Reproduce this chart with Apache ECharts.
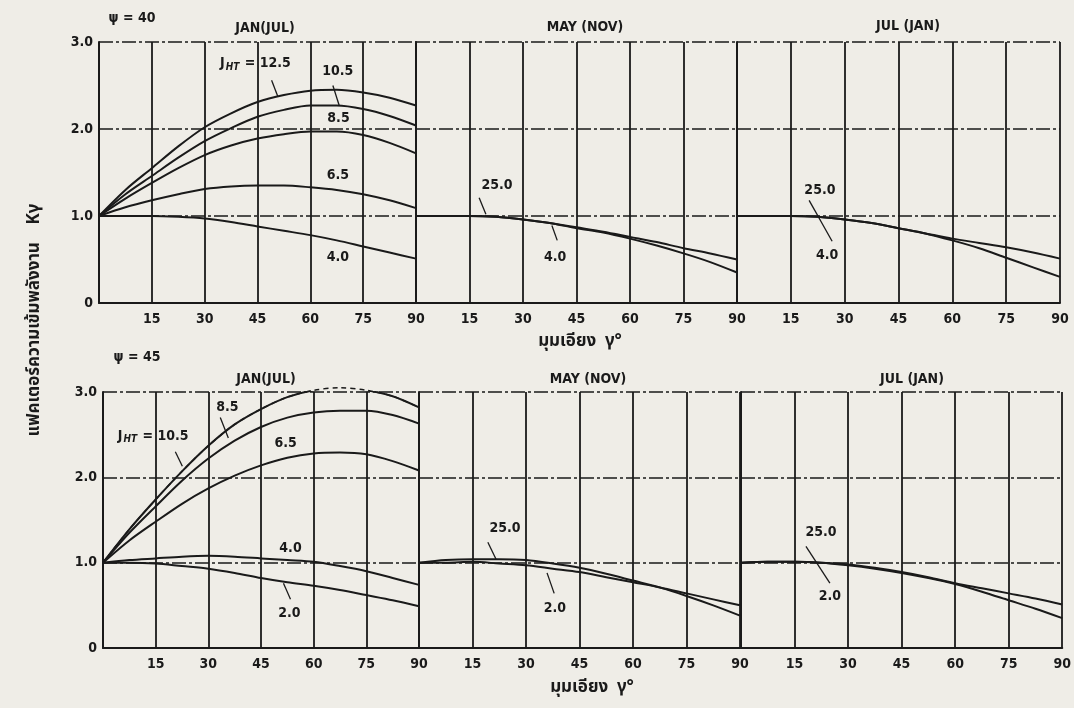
<!DOCTYPE html>
<html>
<head>
<meta charset="utf-8">
<script src="https://cdn.jsdelivr.net/npm/echarts@6/dist/echarts.min.js"></script>
<style>
html,body{margin:0;padding:0;background:#efede7;}
#chart{width:1074px;height:708px;}
</style>
</head>
<body>
<div id="chart"></div>
<script>
// ---------- data (tilt angle in degrees, factor K_gamma) ----------
const angles = [0, 7.5, 15, 22.5, 30, 37.5, 45, 52.5, 60, 67.5, 75, 82.5, 90];
const xTicks = [15, 30, 45, 60, 75, 90];
const yTicks = ['0', '1.0', '2.0', '3.0'];

// psi = 40, JAN (JUL)
const jan40_J125 = [1.00, 1.30, 1.55, 1.80, 2.02, 2.18, 2.31, 2.39, 2.44, 2.45, 2.42, 2.36, 2.27];
const jan40_J105 = [1.00, 1.25, 1.46, 1.67, 1.86, 2.01, 2.14, 2.22, 2.27, 2.27, 2.23, 2.15, 2.04];
const jan40_J85  = [1.00, 1.20, 1.38, 1.55, 1.70, 1.81, 1.89, 1.94, 1.97, 1.97, 1.93, 1.84, 1.72];
const jan40_J65  = [1.00, 1.10, 1.18, 1.25, 1.31, 1.34, 1.35, 1.35, 1.33, 1.30, 1.25, 1.18, 1.09];
const jan40_J40  = [1.00, 1.00, 1.00, 0.99, 0.97, 0.93, 0.88, 0.83, 0.78, 0.72, 0.65, 0.58, 0.51];
// psi = 40, MAY (NOV)
const may40_J250 = [1.00, 1.00, 1.00, 0.99, 0.96, 0.92, 0.86, 0.81, 0.74, 0.66, 0.57, 0.47, 0.35];
const may40_J40  = [1.00, 1.00, 1.00, 0.99, 0.96, 0.92, 0.87, 0.82, 0.76, 0.70, 0.63, 0.57, 0.50];
// psi = 40, JUL (JAN)
const jul40_J250 = [1.00, 1.00, 1.00, 0.99, 0.96, 0.92, 0.86, 0.80, 0.72, 0.63, 0.52, 0.41, 0.30];
const jul40_J40  = [1.00, 1.00, 1.00, 0.99, 0.96, 0.92, 0.86, 0.80, 0.74, 0.69, 0.64, 0.58, 0.51];

// psi = 45, JAN (JUL)
const jan45_J105 = [1.00, 1.39, 1.74, 2.07, 2.37, 2.62, 2.80, 2.94, 3.02, 3.05, 3.02, 2.95, 2.82];
const jan45_J85  = [1.00, 1.35, 1.66, 1.96, 2.22, 2.43, 2.59, 2.70, 2.76, 2.78, 2.78, 2.73, 2.63];
const jan45_J65  = [1.00, 1.26, 1.48, 1.69, 1.87, 2.02, 2.14, 2.23, 2.28, 2.29, 2.27, 2.19, 2.08];
const jan45_J40  = [1.00, 1.03, 1.05, 1.07, 1.08, 1.07, 1.05, 1.03, 1.01, 0.96, 0.90, 0.82, 0.74];
const jan45_J20  = [1.00, 1.00, 0.99, 0.96, 0.93, 0.88, 0.82, 0.77, 0.73, 0.68, 0.62, 0.56, 0.49];
// psi = 45, MAY (NOV)
const may45_J250 = [1.00, 1.03, 1.04, 1.04, 1.03, 0.99, 0.94, 0.87, 0.79, 0.71, 0.61, 0.50, 0.38];
const may45_J20  = [1.00, 1.00, 1.01, 0.99, 0.97, 0.93, 0.89, 0.83, 0.77, 0.71, 0.64, 0.57, 0.50];
// psi = 45, JUL (JAN)
const jul45_J250 = [1.00, 1.01, 1.01, 1.00, 0.97, 0.93, 0.88, 0.82, 0.75, 0.66, 0.56, 0.46, 0.35];
const jul45_J20  = [1.00, 1.01, 1.01, 1.00, 0.98, 0.94, 0.89, 0.83, 0.76, 0.70, 0.64, 0.58, 0.51];

// curve labels [x, y, text] in data units, and leader lines [x1,y1,x2,y2]
const labels0 = [[44.4, 2.75, 'JHT125'], [67.8, 2.66, '10.5'], [68, 2.12, '8.5'], [67.8, 1.47, '6.5'], [67.8, 0.52, '4.0']];
const leaders0 = [[49.0, 2.56, 50.8, 2.37], [66.4, 2.50, 68.2, 2.27]];
const labels1 = [[22.7, 1.35, '25.0'], [39, 0.53, '4.0']];
const leaders1 = [[17.7, 1.21, 19.6, 1.02], [38.1, 0.89, 39.6, 0.72]];
const labels2 = [[23.1, 1.29, '25.0'], [25.1, 0.55, '4.0']];
const leaders2 = [[20.1, 1.18, 26.5, 0.71]];
const labels3 = [[35.4, 2.82, '8.5'], [14.3, 2.48, 'JHT105'], [52, 2.40, '6.5'], [53.4, 1.17, '4.0'], [53.1, 0.41, '2.0']];
const leaders3 = [[33.4, 2.70, 35.7, 2.46], [20.6, 2.30, 22.6, 2.13], [51.4, 0.76, 53.4, 0.57]];
const labels4 = [[24.1, 1.40, '25.0'], [38.1, 0.47, '2.0']];
const leaders4 = [[19.3, 1.24, 21.6, 1.04], [35.9, 0.88, 37.9, 0.64]];
const labels5 = [[22.4, 1.35, '25.0'], [24.9, 0.60, '2.0']];
const leaders5 = [[18.2, 1.19, 24.9, 0.76]];

// ---------- layout / style ----------
const ink = '#1a1a1a';
const FONT = "'Liberation Sans Narrow', 'DejaVu Sans Condensed', 'Liberation Sans', sans-serif";
const THAI = "'Noto Sans Thai', 'Noto Sans', 'DejaVu Sans', sans-serif";
const gridPos = [
  {left: 99, top: 42, width: 317, height: 261},
  {left: 416, top: 42, width: 321, height: 261},
  {left: 737, top: 42, width: 323, height: 261},
  {left: 103, top: 392, width: 316, height: 256},
  {left: 419, top: 392, width: 321, height: 256},
  {left: 741, top: 392, width: 322, height: 256}
];
const panels = [
  {curves: [jan40_J125, jan40_J105, jan40_J85, jan40_J65, jan40_J40], labels: labels0, leaders: leaders0},
  {curves: [may40_J250, may40_J40], labels: labels1, leaders: leaders1},
  {curves: [jul40_J250, jul40_J40], labels: labels2, leaders: leaders2},
  {curves: [jan45_J105, jan45_J85, jan45_J65, jan45_J40, jan45_J20], labels: labels3, leaders: leaders3, overflow: jan45_J105},
  {curves: [may45_J250, may45_J20], labels: labels4, leaders: leaders4},
  {curves: [jul45_J250, jul45_J20], labels: labels5, leaders: leaders5}
];

const grid = [], xAxis = [], yAxis = [], series = [];
gridPos.forEach((g, i) => {
  grid.push({left: g.left, top: g.top, width: g.width, height: g.height, containLabel: false});
  xAxis.push({
    gridIndex: i, type: 'value', min: 0, max: 90, interval: 15,
    axisLine: {show: true, onZero: false, lineStyle: {color: ink, width: 2}},
    axisTick: {show: false},
    splitLine: {show: true, lineStyle: {color: ink, width: 1.8}},
    axisLabel: {
      color: ink, fontWeight: 'bold', fontSize: 14, fontFamily: FONT, margin: 9,
      formatter: v => (xTicks.indexOf(v) >= 0 ? String(v) : '')
    }
  });
  yAxis.push({
    gridIndex: i, type: 'value', min: 0, max: 3, interval: 1,
    axisLine: {show: true, lineStyle: {color: ink, width: 2}},
    axisTick: {show: false},
    splitLine: {show: true, lineStyle: {color: ink, width: 1.5, type: [14, 3, 3, 3]}},
    axisLabel: {
      show: i % 3 === 0, color: ink, fontWeight: 'bold', fontSize: 14, fontFamily: FONT, margin: 6,
      formatter: v => yTicks[Math.round(v)]
    }
  });
  const p = panels[i];
  if (p.overflow) {
    series.push({
      type: 'line', xAxisIndex: i, yAxisIndex: i, smooth: 0.3, symbol: 'none', clip: false, z: 1,
      data: angles.map((a, k) => [a, p.overflow[k]]),
      lineStyle: {color: ink, width: 1.5, type: [5, 4]}
    });
  }
  p.curves.forEach(c => {
    series.push({
      type: 'line', xAxisIndex: i, yAxisIndex: i, smooth: 0.3, symbol: 'none', clip: true, z: 3,
      data: angles.map((a, k) => [a, c[k]]),
      lineStyle: {color: ink, width: 2}
    });
  });
  p.leaders.forEach(l => {
    series.push({
      type: 'line', xAxisIndex: i, yAxisIndex: i, symbol: 'none', z: 4,
      data: [[l[0], l[1]], [l[2], l[3]]],
      lineStyle: {color: ink, width: 1.3}
    });
  });
  series.push({
    type: 'scatter', xAxisIndex: i, yAxisIndex: i, symbolSize: 1, z: 5,
    itemStyle: {color: 'rgba(0,0,0,0)', opacity: 1},
    data: p.labels,
    label: {
      show: true, position: 'inside', color: ink, fontWeight: 'bold', fontSize: 14, fontFamily: FONT,
      formatter: prm => {
        const t = prm.data[2];
        if (t === 'JHT125') return '{j|J}{s|HT}{j| = 12.5}';
        if (t === 'JHT105') return '{j|J}{s|HT}{j| = 10.5}';
        return t;
      },
      rich: {
        j: {color: ink, fontWeight: 'bold', fontSize: 14, fontFamily: FONT},
        s: {color: ink, fontWeight: 'bold', fontStyle: 'italic', fontSize: 10, fontFamily: FONT, padding: [7, 1, 0, 1]}
      }
    }
  });
});

const txt = (x, y, text, size, fam, extra) => Object.assign({
  type: 'text', x: x, y: y, z: 10,
  style: {text: text, fill: ink, font: 'bold ' + size + 'px ' + fam, align: 'center', verticalAlign: 'middle'}
}, extra || {});

const graphic = [
  txt(132, 18, 'ψ = 40', 14, FONT),
  txt(265, 28, 'JAN(JUL)', 14, FONT),
  txt(585, 27, 'MAY (NOV)', 14, FONT),
  txt(908, 26, 'JUL (JAN)', 14, FONT),
  txt(137, 357, 'ψ = 45', 14, FONT),
  txt(266, 379, 'JAN(JUL)', 14, FONT),
  txt(588, 379, 'MAY (NOV)', 14, FONT),
  txt(912, 379, 'JUL (JAN)', 14, FONT),
  txt(580, 343, 'มุมเอียง  γ°', 17, THAI),
  txt(592, 689, 'มุมเอียง  γ°', 17, THAI),
  txt(36, 320, 'แฟคเตอร์ความเข้มพลังงาน    Kγ', 17, THAI, {rotation: Math.PI / 2})
];

const chart = echarts.init(document.getElementById('chart'), null, {renderer: 'canvas'});
chart.setOption({
  backgroundColor: '#efede7',
  animation: false,
  grid: grid, xAxis: xAxis, yAxis: yAxis, series: series, graphic: graphic
});
</script>
</body>
</html>
